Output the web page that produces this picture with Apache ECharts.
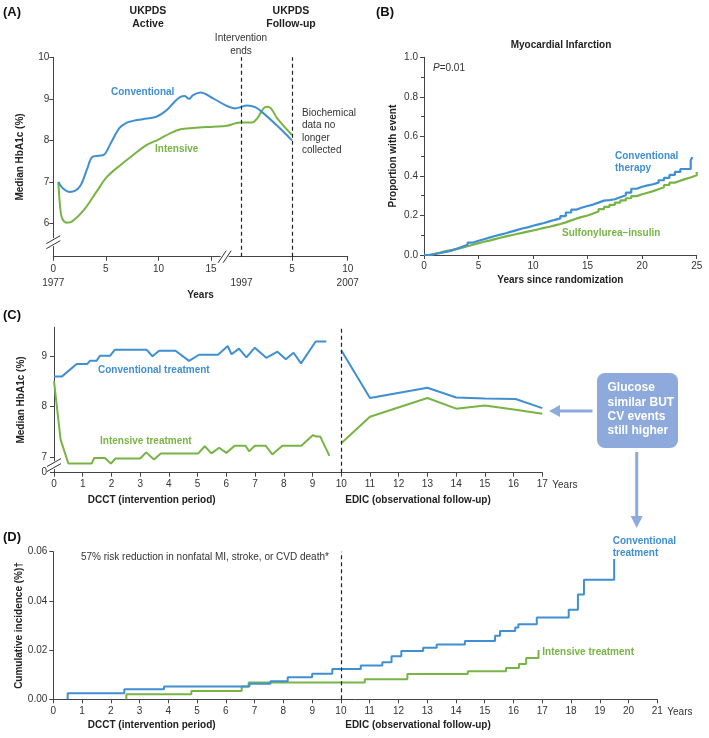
<!DOCTYPE html>
<html><head><meta charset="utf-8">
<script src="https://cdn.jsdelivr.net/npm/echarts@6/dist/echarts.min.js"></script>
<style>html,body{margin:0;padding:0;background:#fff}#c{width:709px;height:738px}</style>
</head><body><div id="c"></div>
<script>
// ---------- DATA ----------
// Panel A (UKPDS) – x is position on a broken time axis (0-15 yrs from 1977, then 1997..2007)
const aTickPos = [0, 5, 10, 15, 17.9, 22.7, 28];
const aTickTop = ['0', '5', '10', '15', '', '5', '10'];
const aTickBottom = ['1977', '', '', '', '1997', '', '2007'];
const aYTicks = [6, 7, 8, 9, 10];
const aConvX = [0.48, 0.9, 1.6, 2.5, 3.2, 3.7, 4.3, 4.8, 5.5, 6.3, 7.0, 7.6, 8.5, 9.8, 10.8, 11.6, 12.1, 12.5, 12.9, 13.3, 14.0, 15.2, 16.5, 17.3, 17.8, 18.4, 19.2, 20.0, 21.3, 22.7];
const aConv = [7.0, 6.85, 6.76, 6.88, 7.3, 7.6, 7.63, 7.65, 7.95, 8.3, 8.43, 8.47, 8.51, 8.57, 8.73, 8.95, 9.05, 9.07, 9.0, 9.09, 9.15, 9.01, 8.83, 8.77, 8.8, 8.84, 8.8, 8.65, 8.35, 8.0];
const aIntX = [0.48, 0.65, 0.85, 1.3, 1.8, 2.9, 4.1, 5.1, 6.4, 7.6, 8.9, 10.0, 11.1, 12.1, 13.3, 15.2, 16.5, 17.3, 17.8, 18.9, 19.4, 20.0, 20.3, 20.7, 21.3, 22.7];
const aInt = [7.0, 6.4, 6.12, 6.02, 6.05, 6.32, 6.76, 7.12, 7.41, 7.65, 7.89, 8.02, 8.17, 8.27, 8.3, 8.33, 8.35, 8.41, 8.43, 8.43, 8.53, 8.77, 8.81, 8.77, 8.53, 8.13];
const aDashed = [17.9, 22.7];

// Panel B (Myocardial infarction, step curves)
const bConvT = [0, 0.5, 1, 1.5, 2, 2.5, 3, 3.5, 4, 4.5, 5, 5.5, 6, 6.5, 7, 7.5, 8, 8.5, 9, 9.5, 10, 10.5, 11, 11.5, 12, 12.5, 13, 13.5, 14, 14.5, 15, 15.5, 16, 16.5, 17, 17.5, 18, 18.5, 19, 19.5, 20, 20.5, 21, 21.5, 22, 22.5, 23, 23.5, 24.45, 24.6];
const bConv = [0, 0.005, 0.01, 0.016, 0.022, 0.032, 0.042, 0.052, 0.063, 0.072, 0.08, 0.088, 0.096, 0.103, 0.11, 0.118, 0.126, 0.134, 0.14, 0.148, 0.155, 0.162, 0.17, 0.178, 0.185, 0.197, 0.215, 0.23, 0.24, 0.248, 0.255, 0.265, 0.275, 0.278, 0.282, 0.292, 0.302, 0.315, 0.335, 0.345, 0.352, 0.358, 0.366, 0.378, 0.39, 0.405, 0.42, 0.435, 0.478, 0.495];
const bSuT = [0, 0.5, 1, 1.5, 2, 2.5, 3, 3.5, 4, 4.5, 5, 5.5, 6, 6.5, 7, 7.5, 8, 8.5, 9, 9.5, 10, 10.5, 11, 11.5, 12, 12.5, 13, 13.5, 14, 14.5, 15, 15.5, 16, 16.5, 17, 17.5, 18, 18.5, 19, 19.5, 20, 20.5, 21, 21.5, 22, 22.5, 23, 23.5, 24, 24.5, 25];
const bSu = [0, 0.006, 0.012, 0.02, 0.025, 0.03, 0.037, 0.044, 0.052, 0.06, 0.067, 0.073, 0.08, 0.087, 0.094, 0.1, 0.106, 0.112, 0.118, 0.124, 0.13, 0.137, 0.143, 0.15, 0.157, 0.165, 0.175, 0.185, 0.193, 0.2, 0.21, 0.22, 0.232, 0.243, 0.254, 0.265, 0.276, 0.287, 0.298, 0.307, 0.315, 0.323, 0.333, 0.343, 0.354, 0.366, 0.376, 0.385, 0.393, 0.403, 0.42];

// Panel C (DCCT/EDIC median HbA1c); null = gap between DCCT and EDIC
const cConvX = [0, 0.27, 0.79, 1.16, 1.25, 1.48, 1.6, 1.95, 2.12, 3.22, 3.43, 3.66, 4.23, 4.7, 5.05, 5.71, 6.05, 6.18, 6.44, 6.7, 6.99, 7.39, 7.78, 8.07, 8.34, 8.6, 9.11, 9.48, 9.75, 10, 11, 13, 14, 15, 16.07, 17];
const cConv = [8.59, 8.59, 8.84, 8.84, 8.9, 8.9, 9.0, 9.0, 9.12, 9.12, 8.99, 9.1, 9.1, 8.9, 9.02, 9.02, 9.19, 9.03, 9.14, 8.97, 9.16, 8.96, 9.08, 8.93, 9.06, 8.85, 9.28, 9.28, null, 9.11, 8.17, 8.37, 8.18, 8.16, 8.15, 7.97];
const cIntX = [0, 0.23, 0.5, 1.31, 1.4, 1.77, 1.98, 2.14, 3.0, 3.21, 3.48, 3.72, 5.02, 5.25, 5.48, 5.75, 6.0, 6.29, 6.67, 6.79, 6.99, 7.37, 7.6, 7.95, 8.61, 9.02, 9.13, 9.27, 9.59, 9.8, 10, 11, 13, 14, 15, 16.07, 17];
const cInt = [8.5, 7.35, 6.88, 6.88, 6.99, 6.99, 6.88, 6.98, 6.98, 7.1, 6.96, 7.08, 7.08, 7.22, 7.08, 7.19, 7.09, 7.23, 7.23, 7.12, 7.23, 7.23, 7.06, 7.23, 7.23, 7.44, 7.41, 7.41, 7.03, null, 7.28, 7.8, 8.17, 7.96, 8.02, 7.94, 7.86];
const cYTicks = [6.7, 7, 8, 9];

// Panel D (cumulative incidence, step curves)
const dConvT = [0.5, 0.5, 2.47, 3.85, 6.82, 7.55, 8.15, 9.0, 9.7, 10.69, 11.44, 11.76, 12.1, 12.86, 13.33, 14.31, 15.36, 15.53, 16.06, 16.17, 16.81, 17.92, 18.24, 18.45, 19.5];
const dConv = [0, 0.0025, 0.0041, 0.0052, 0.0063, 0.0073, 0.009, 0.0104, 0.0123, 0.0137, 0.0151, 0.0175, 0.0196, 0.021, 0.0223, 0.0237, 0.0258, 0.0278, 0.0292, 0.0305, 0.0333, 0.0364, 0.0426, 0.0486, 0.057];
const dIntT = [2.54, 2.54, 4.8, 6.55, 6.79, 10.83, 12.31, 14.41, 15.74, 16.19, 16.44, 16.87];
const dInt = [0, 0.0021, 0.0034, 0.0052, 0.0068, 0.0082, 0.0103, 0.0114, 0.0127, 0.0144, 0.0168, 0.02];

// ---------- STYLE ----------
const FONT = 'Liberation Sans, Arial, Helvetica, sans-serif';
const BLUE = '#3f8fd2', GREEN = '#78b445', BOX = '#8eaadc', AX = '#444', TX = '#333';
const pairs = (xs, ys) => xs.map((x, i) => [x, ys[i] == null ? '-' : ys[i]]);

function axisBase(extra) {
  return Object.assign({
    type: 'value',
    nameMoveOverlap: false,
    axisLine: { show: true, lineStyle: { color: AX, width: 1 } },
    axisTick: { show: true, length: 4, lineStyle: { color: AX } },
    axisLabel: { color: TX, fontSize: 10, fontFamily: FONT },
    splitLine: { show: false },
    nameTextStyle: { color: '#222', fontSize: 10, fontWeight: 'bold', fontFamily: FONT }
  }, extra);
}
function lineSeries(name, xi, yi, data, color, extra) {
  return Object.assign({
    name, type: 'line', xAxisIndex: xi, yAxisIndex: yi, data,
    symbol: 'none', lineStyle: { color, width: 2 }, itemStyle: { color },
    connectNulls: false, silent: true
  }, extra || {});
}
function dash(values) {
  return {
    silent: true, symbol: ['none', 'none'], label: { show: false },
    lineStyle: { color: '#222', type: [4, 3], width: 1.2 },
    data: values.map(v => ({ xAxis: v }))
  };
}

const chart = echarts.init(document.getElementById('c'), null, { renderer: 'canvas' });

const option = {
  animation: false,
  textStyle: { fontFamily: FONT },
  grid: [
    { left: 53.3, top: 57.3, width: 294.4, height: 199.4 },
    { left: 424, top: 57.3, width: 272.7, height: 197.7 },
    { left: 54, top: 327.3, width: 488.3, height: 145.4 },
    { left: 53.3, top: 551.7, width: 604, height: 147.6 }
  ],
  xAxis: [
    axisBase({
      gridIndex: 0, min: 0, max: 28,
      name: 'Years', nameLocation: 'middle', nameGap: 34,
      axisTick: { show: true, length: 4, lineStyle: { color: AX }, customValues: [0, 5, 10, 15, 22.7, 28] },
      axisLabel: {
        color: TX, fontSize: 10, fontFamily: FONT, margin: 5, lineHeight: 14.5,
        customValues: aTickPos,
        formatter: v => { const i = aTickPos.indexOf(v); return i < 0 ? '' : aTickTop[i] + '\n' + aTickBottom[i]; }
      }
    }),
    axisBase({
      gridIndex: 1, min: 0, max: 25, interval: 5,
      name: 'Years since randomization', nameLocation: 'middle', nameGap: 20,
      axisLabel: { color: TX, fontSize: 10, fontFamily: FONT, margin: 6 }
    }),
    axisBase({
      gridIndex: 2, min: 0, max: 17, interval: 1,
      name: 'Years', nameLocation: 'end', nameGap: 10,
      nameTextStyle: { color: TX, fontSize: 10, fontFamily: FONT, verticalAlign: 'top', padding: [8, 0, 0, 0] },
      axisLabel: { color: TX, fontSize: 10, fontFamily: FONT, margin: 7 }
    }),
    axisBase({
      gridIndex: 3, min: 0, max: 21, interval: 1,
      name: 'Years', nameLocation: 'end', nameGap: 10,
      nameTextStyle: { color: TX, fontSize: 10, fontFamily: FONT, verticalAlign: 'top', padding: [8, 0, 0, 0] },
      axisLabel: { color: TX, fontSize: 10, fontFamily: FONT, margin: 7 }
    })
  ],
  yAxis: [
    axisBase({
      gridIndex: 0, min: 5.2, max: 10,
      name: 'Median HbA1c (%)', nameLocation: 'middle', nameGap: 28,
      axisTick: { show: true, length: 4, lineStyle: { color: AX }, customValues: aYTicks },
      axisLabel: { color: TX, fontSize: 10, fontFamily: FONT, margin: 4, customValues: aYTicks }
    }),
    axisBase({
      gridIndex: 1, min: 0, max: 1, interval: 0.2,
      name: 'Proportion with event', nameLocation: 'middle', nameGap: 26,
      minorTick: { show: true, splitNumber: 2, length: 3, lineStyle: { color: AX } },
      axisLabel: { color: TX, fontSize: 10, fontFamily: FONT, margin: 6, formatter: v => v.toFixed(1) }
    }),
    axisBase({
      gridIndex: 2, min: 6.7, max: 9.56,
      name: 'Median HbA1c (%)', nameLocation: 'middle', nameGap: 28,
      axisTick: { show: true, length: 4, lineStyle: { color: AX }, customValues: cYTicks },
      axisLabel: {
        color: TX, fontSize: 10, fontFamily: FONT, margin: 7, customValues: cYTicks,
        formatter: v => (v < 6.9 ? '0' : String(v))
      }
    }),
    axisBase({
      gridIndex: 3, min: 0, max: 0.06, interval: 0.02,
      name: 'Cumulative incidence (%)†', nameLocation: 'middle', nameGap: 29,
      axisLabel: { color: TX, fontSize: 10, fontFamily: FONT, margin: 6, formatter: v => v.toFixed(2) }
    })
  ],
  series: [
    lineSeries('A-int', 0, 0, pairs(aIntX, aInt), GREEN, { smooth: 0.35, markLine: dash(aDashed) }),
    lineSeries('A-conv', 0, 0, pairs(aConvX, aConv), BLUE, { smooth: 0.35 }),
    lineSeries('B-su', 1, 1, pairs(bSuT, bSu), GREEN, { step: 'end', lineStyle: { color: GREEN, width: 2.2 } }),
    lineSeries('B-conv', 1, 1, pairs(bConvT, bConv), BLUE, { step: 'end', lineStyle: { color: BLUE, width: 2.2 } }),
    lineSeries('C-int', 2, 2, pairs(cIntX, cInt), GREEN, { markLine: dash([10]) }),
    lineSeries('C-conv', 2, 2, pairs(cConvX, cConv), BLUE),
    lineSeries('D-int', 3, 3, pairs(dIntT, dInt), GREEN, { step: 'end', markLine: dash([10]) }),
    lineSeries('D-conv', 3, 3, pairs(dConvT, dConv), BLUE, { step: 'end' })
  ]
};
chart.setOption(option);

// ---------- ANNOTATIONS ----------
function txt(x, y, text, o) {
  o = o || {};
  return {
    type: 'text', x, y, z: 100, silent: true,
    style: Object.assign({
      text, fill: o.fill || TX, font: (o.weight || 'normal') + ' ' + (o.size || 10) + 'px ' + FONT,
      textAlign: o.align || 'left', textVerticalAlign: o.va || 'middle', lineHeight: o.lh || 12
    }, o.rich ? { rich: o.rich } : {})
  };
}
const g = [];
// panel letters
g.push(txt(3, 12, '(A)', { weight: 'bold', size: 13, fill: '#111' }));
g.push(txt(376, 12, '(B)', { weight: 'bold', size: 13, fill: '#111' }));
g.push(txt(3, 315, '(C)', { weight: 'bold', size: 13, fill: '#111' }));
g.push(txt(3, 537, '(D)', { weight: 'bold', size: 13, fill: '#111' }));
// panel A
g.push(txt(148, 17.5, 'UKPDS\nActive', { weight: 'bold', size: 10.5, align: 'center', lh: 13, fill: '#222' }));
g.push(txt(291, 17.5, 'UKPDS\nFollow-up', { weight: 'bold', size: 10.5, align: 'center', lh: 13, fill: '#222' }));
g.push(txt(241, 44.5, 'Intervention\nends', { align: 'center', lh: 13 }));
g.push(txt(302, 107, 'Biochemical\ndata no\nlonger\ncollected', { va: 'top', lh: 12.3 }));
g.push(txt(111, 92, 'Conventional', { weight: 'bold', fill: BLUE }));
g.push(txt(155, 149, 'Intensive', { weight: 'bold', fill: GREEN }));
// panel B
g.push(txt(561, 45, 'Myocardial Infarction', { weight: 'bold', align: 'center', fill: '#222' }));
g.push(txt(433, 68, '{i|P}=0.01', { rich: { i: { fontStyle: 'italic', fontSize: 10, fontFamily: FONT, fill: TX } } }));
g.push(txt(615, 162.5, 'Conventional\ntherapy', { weight: 'bold', fill: BLUE, lh: 12 }));
g.push(txt(562, 233, 'Sulfonylurea–insulin', { weight: 'bold', fill: GREEN }));
// panel C
g.push(txt(98, 370.3, 'Conventional treatment', { weight: 'bold', fill: BLUE }));
g.push(txt(100, 441.7, 'Intensive treatment', { weight: 'bold', fill: GREEN }));
g.push(txt(151.7, 500.7, 'DCCT (intervention period)', { weight: 'bold', align: 'center', fill: '#222' }));
g.push(txt(418, 500.7, 'EDIC (observational follow-up)', { weight: 'bold', align: 'center', fill: '#222' }));
// callout box + arrows
g.push({ type: 'rect', z: 90, silent: true, shape: { x: 597, y: 373, width: 81, height: 75, r: 8 }, style: { fill: BOX } });
g.push(txt(607.5, 381, 'Glucose\nsimilar BUT\nCV events\nstill higher', { weight: 'bold', size: 12, fill: '#fff', va: 'top', lh: 14.2 }));
g.push({ type: 'line', z: 90, silent: true, shape: { x1: 592.5, y1: 411, x2: 558, y2: 411 }, style: { stroke: BOX, lineWidth: 3 } });
g.push({ type: 'polygon', z: 90, silent: true, shape: { points: [[549, 411], [560, 405], [560, 417]] }, style: { fill: BOX } });
g.push({ type: 'line', z: 90, silent: true, shape: { x1: 636.7, y1: 452, x2: 636.7, y2: 518 }, style: { stroke: BOX, lineWidth: 3 } });
g.push({ type: 'polygon', z: 90, silent: true, shape: { points: [[636.7, 528], [630.7, 516], [642.7, 516]] }, style: { fill: BOX } });
// panel D
g.push(txt(81, 557.7, '57% risk reduction in nonfatal MI, stroke, or CVD death*'));
g.push(txt(151.7, 725, 'DCCT (intervention period)', { weight: 'bold', align: 'center', fill: '#222' }));
g.push(txt(418, 725, 'EDIC (observational follow-up)', { weight: 'bold', align: 'center', fill: '#222' }));
g.push(txt(612.7, 547.2, 'Conventional\ntreatment', { weight: 'bold', fill: BLUE, lh: 12.3 }));
g.push(txt(542.3, 652.7, 'Intensive treatment', { weight: 'bold', fill: GREEN }));

// axis break marks (positions derived from the axes)
function brk(cx, cy, vertical) {
  const els = [];
  if (vertical) {
    els.push({ type: 'rect', z: 95, silent: true, shape: { x: cx - 3, y: cy - 4, width: 6, height: 8 }, style: { fill: '#fff' } });
    [-2.5, 2.5].forEach(o => els.push({ type: 'line', z: 96, silent: true, shape: { x1: cx - 7, y1: cy + o + 4, x2: cx + 7, y2: cy + o - 4 }, style: { stroke: '#333', lineWidth: 1 } }));
  } else {
    els.push({ type: 'rect', z: 95, silent: true, shape: { x: cx - 4, y: cy - 3, width: 8, height: 6 }, style: { fill: '#fff' } });
    [-2.5, 2.5].forEach(o => els.push({ type: 'line', z: 96, silent: true, shape: { x1: cx + o - 4, y1: cy + 6, x2: cx + o + 4, y2: cy - 6 }, style: { stroke: '#333', lineWidth: 1 } }));
  }
  return els;
}
const pAy = chart.convertToPixel({ gridIndex: 0 }, [0, 5.55]);
const pAx = chart.convertToPixel({ gridIndex: 0 }, [16.3, 5.2]);
const pCy = chart.convertToPixel({ gridIndex: 2 }, [0, 6.85]);
brk(pAy[0], pAy[1], true).forEach(e => g.push(e));
brk(pAx[0], pAx[1], false).forEach(e => g.push(e));
brk(pCy[0], pCy[1], true).forEach(e => g.push(e));

chart.setOption({ graphic: { elements: g } });
</script>
</body></html>
